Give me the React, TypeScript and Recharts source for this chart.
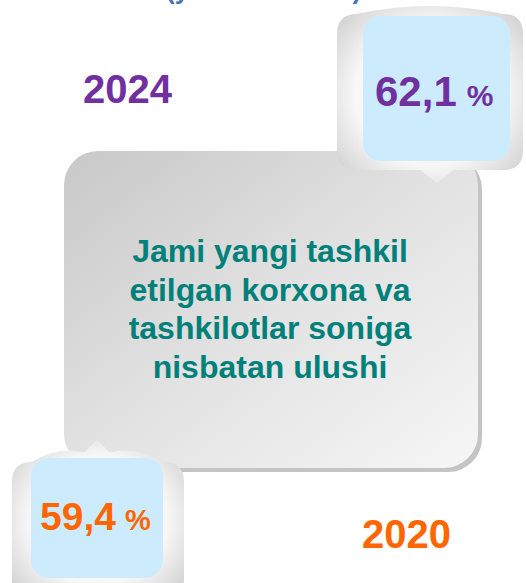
import { ComposedChart, Customized } from 'recharts';

const years = ['2024', '2020'];
const shares = [62.1, 59.4];
const captionLines = ['Jami yangi tashkil', 'etilgan korxona va', 'tashkilotlar soniga', 'nisbatan ulushi'];
const subtitle = '(yanvar-dekabr)';

const chartData = years.map((year, i) => ({ year, share: shares[i] }));

const FONT = '"Liberation Sans", Arial, sans-serif';
const seriesColors = ['#7030A0', '#FF6600'];

const fmt = (v: number) => v.toFixed(1).replace('.', ',');

// cushion-shaped callout with a small pointer
const bubblePath = (
  x0: number, y0: number, x1: number, y1: number, r: number, bulge: number,
  px: number, half: number, len: number, side: 'top' | 'bottom'
) => {
  const mid = (x0 + x1) / 2;
  let top = `M ${x0 + r} ${y0} Q ${mid} ${y0 - bulge} ${x1 - r} ${y0}`;
  if (side === 'top') {
    top = `M ${x0 + r} ${y0} Q ${(x0 + r + px - half) / 2} ${y0 - bulge} ${px - half} ${y0 - bulge * 0.6} L ${px} ${y0 - len} L ${px + half} ${y0 - bulge * 0.6} Q ${(px + half + x1 - r) / 2} ${y0 - bulge} ${x1 - r} ${y0}`;
  }
  const right = ` Q ${x1} ${y0} ${x1} ${y0 + r} L ${x1} ${y1 - r} Q ${x1} ${y1} ${x1 - r} ${y1}`;
  const bottom = side === 'bottom'
    ? ` L ${px + half} ${y1} L ${px} ${y1 + len} L ${px - half} ${y1} L ${x0 + r} ${y1}`
    : ` L ${x0 + r} ${y1}`;
  const left = ` Q ${x0} ${y1} ${x0} ${y1 - r} L ${x0} ${y0 + r} Q ${x0} ${y0} ${x0 + r} ${y0} Z`;
  return top + right + bottom + left;
};

const Board = () => (
  <g>
    <defs>
      <linearGradient id="face" x1="0" y1="0" x2="1" y2="1">
        <stop offset="0" stopColor="#c8c8c8" />
        <stop offset="0.5" stopColor="#e2e2e2" />
        <stop offset="1" stopColor="#f6f6f6" />
      </linearGradient>
      <radialGradient id="cushion" cx="0.5" cy="0.5" r="0.62">
        <stop offset="0" stopColor="#ffffff" />
        <stop offset="0.65" stopColor="#f7f7f7" />
        <stop offset="1" stopColor="#d6d6d6" />
      </radialGradient>
    </defs>

    <text x={166} y={-1} fontFamily={FONT} fontWeight="bold" fontSize={26} fill="#4472C4">{subtitle}</text>

    {/* centre card */}
    <rect x={68} y={155} width={414} height={317} rx={34} fill="#c4c4c4" />
    <rect x={64} y={151} width={414} height={317} rx={34} fill="url(#face)" />
    <text fontFamily={FONT} fontWeight="bold" fontSize={32} fill="#00807A" textAnchor="middle">
      {captionLines.map((line, i) => (
        <tspan key={line} x={270} y={262 + i * 38.5}>{line}</tspan>
      ))}
    </text>

    {/* years */}
    <text x={83} y={103} fontFamily={FONT} fontWeight="bold" fontSize={40} fill={seriesColors[0]}>{chartData[0].year}</text>
    <text x={362} y={548} fontFamily={FONT} fontWeight="bold" fontSize={40} fill={seriesColors[1]}>{chartData[1].year}</text>

    {/* top right callout */}
    <path d={bubblePath(337, 14, 523, 170, 20, 16, 437, 17, 13, 'bottom')} fill="url(#cushion)" />
    <rect x={363} y={16} width={147} height={145} rx={18} fill="#CCECFD" />
    <text x={375} y={106} fontFamily={FONT} fontWeight="bold" fill={seriesColors[0]}>
      <tspan fontSize={42}>{fmt(chartData[0].share)}</tspan>
      <tspan fontSize={30} dx={10}>%</tspan>
    </text>

    {/* bottom left callout */}
    <path d={bubblePath(12, 462, 184, 600, 20, 16, 97, 13, 22, 'top')} fill="url(#cushion)" />
    <rect x={31} y={458} width={132} height={120} rx={18} fill="#CCECFD" />
    <text x={40} y={530} fontFamily={FONT} fontWeight="bold" fill={seriesColors[1]}>
      <tspan fontSize={39}>{fmt(chartData[1].share)}</tspan>
      <tspan fontSize={29} dx={9}>%</tspan>
    </text>
  </g>
);

export default function App() {
  return (
    <div style={{ position: 'absolute', left: 0, top: 0, width: 526, height: 583, background: '#fff' }}>
      <ComposedChart width={526} height={583} data={chartData} margin={{ top: 0, right: 0, bottom: 0, left: 0 }}>
        <Customized component={Board} />
      </ComposedChart>
    </div>
  );
}
